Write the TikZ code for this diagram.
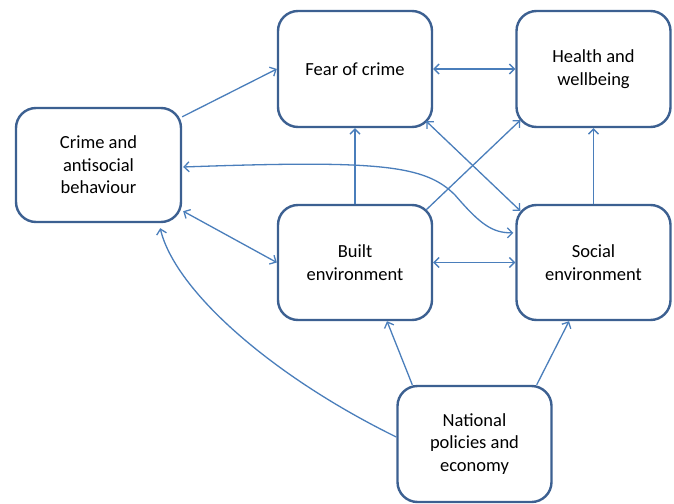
\documentclass[tikz,border=0pt]{standalone}
\usepackage{fontspec}
\setmainfont{Carlito}
\usetikzlibrary{arrows.meta}
\definecolor{boxline}{RGB}{60,96,145}
\definecolor{arrline}{RGB}{74,126,187}
\tikzset{
  box/.style={draw=boxline, line width=2.4pt, rounded corners=20pt, fill=white,
    minimum width=154pt, minimum height=115pt, align=center, inner sep=2pt,
    font=\fontsize{18.5}{22.5}\selectfont},
  arr/.style={draw=arrline, line width=1.3pt, -{Straight Barb[length=5pt,width=10pt,line width=1.3pt]}},
  darr/.style={draw=arrline, line width=1.3pt, {Straight Barb[length=5pt,width=10pt,line width=1.3pt]}-{Straight Barb[length=5pt,width=10pt,line width=1.3pt]}}
}
\begin{document}
\begin{tikzpicture}[x=1pt,y=-1pt]
\useasboundingbox[fill=white] (0,0) rectangle (674,503);
\node[box, minimum width=165pt, minimum height=114pt] (crime) at (98.5,165) {Crime and\\antisocial\\behaviour};
\node[box, minimum height=116pt] (fear) at (355,69) {Fear of crime};
\node[box, minimum height=116pt] (health) at (593.5,69) {Health and\\wellbeing};
\node[box] (built) at (355,262.5) {Built\\environment};
\node[box] (social) at (593.5,262.5) {Social\\environment};
\node[box, minimum height=116pt] (national) at (474.5,444) {National\\policies and\\economy};

\draw[arr] ([yshift=-10pt]crime.north east) -- (fear.west);
\draw[darr] (fear.east) -- (health.west);
\draw[arr] (built.north) -- (fear.south);
\draw[arr] ([xshift=-7pt,yshift=-6pt]built.north east) -- ([xshift=5pt,yshift=8pt]health.south west);
\draw[darr] ([xshift=-7pt,yshift=7pt]fear.south east) -- ([xshift=5pt,yshift=-7pt]social.north west);
\draw[arr] (social.north) -- (health.south);
\coordinate (cend) at ([yshift=-29pt]social.north west);
\draw[darr] ([xshift=1pt,yshift=-2pt]crime.east) .. controls (380,160) and (425,165) .. (455,195)
   .. controls (480,224) and (492,233) .. ([xshift=-2pt]cend);
\draw[darr] ([xshift=1pt,yshift=12pt]crime.south east) -- (built.west);
\draw[darr] (built.east) -- (social.west);
\draw[arr] ([xshift=16pt]national.north west) -- ([xshift=32pt]built.south);
\draw[arr] ([xshift=-16pt]national.north east) -- ([xshift=-24.5pt]social.south);
\draw[arr] ([yshift=7pt]national.west) .. controls (270,375) and (175,290) .. ([xshift=-22pt,yshift=-5pt]crime.south east);
\end{tikzpicture}
\end{document}
